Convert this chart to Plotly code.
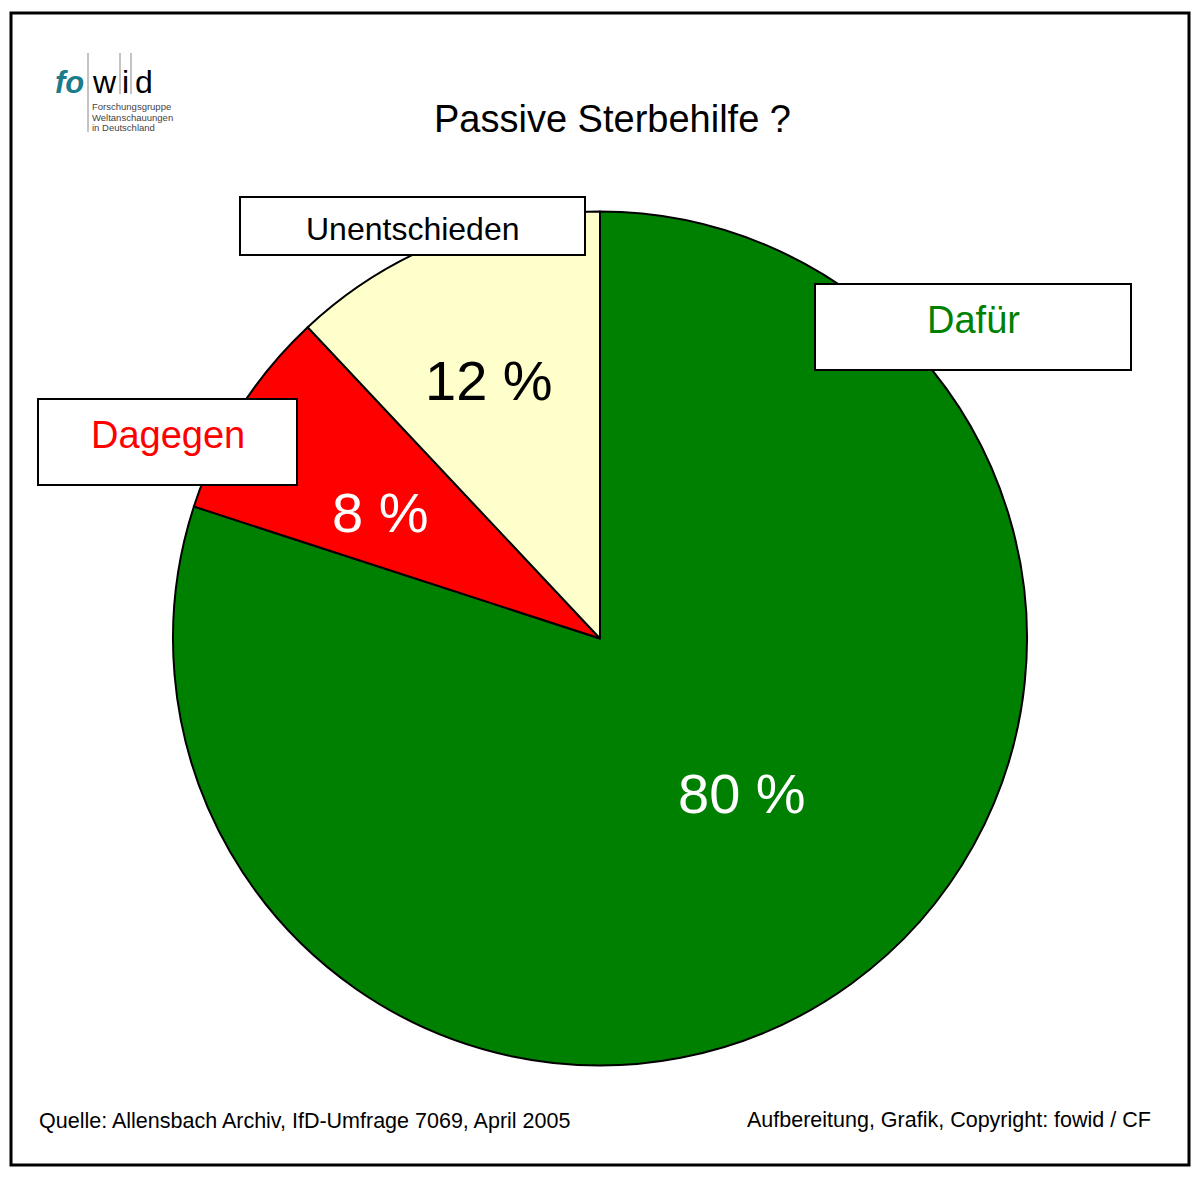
import plotly.graph_objects as go

W, H = 1200, 1181

labels = ['Dafür', 'Dagegen', 'Unentschieden']
values = [80, 8, 12]
slice_colors = ['#008000', '#ff0000', '#ffffcc']
label_colors = ['#008000', '#ff0000', '#000000']
pct_colors = ['white', 'white', 'black']

title = 'Passive Sterbehilfe ?'
source = 'Quelle: Allensbach Archiv, IfD-Umfrage 7069, April 2005'
credit = 'Aufbereitung, Grafik, Copyright: fowid / CF'
logo_sub = ['Forschungsgruppe', 'Weltanschauungen', 'in Deutschland']

font = 'Liberation Sans, Arial, sans-serif'


def px(x):
    return x / W


def py(y):
    return 1 - y / H


def note(x, y, text, size, color='black', xanchor='center', family=font):
    return dict(x=px(x), y=py(y), xref='paper', yref='paper', text=text,
                xanchor=xanchor, yanchor='middle', showarrow=False,
                font=dict(family=family, size=size, color=color))


# pie geometry in pixels
cx, cy, r = 600, 638.5, 427

fig = go.Figure(go.Pie(
    labels=labels,
    values=values,
    sort=False,
    direction='clockwise',
    rotation=0,
    marker=dict(colors=slice_colors, line=dict(color='black', width=2)),
    textinfo='none',
    hovertemplate='%{label}: %{value} %<extra></extra>',
    showlegend=False,
    domain=dict(x=[px(cx - r), px(cx + r)], y=[py(cy + r), py(cy - r)]),
))

shapes = []
annotations = []

# outer frame
shapes.append(dict(type='rect', xref='paper', yref='paper',
                   x0=px(11), x1=px(1189), y0=py(1165), y1=py(13),
                   line=dict(color='black', width=3)))

# label boxes: (x0, y0, x1, y1, text y, font size)
boxes = [(815, 284, 1131, 370, 320, 38), (38, 399, 297, 485, 435, 38), (240, 197, 585, 255, 229, 32)]
for lab, col, (x0, y0, x1, y1, ty, fs) in zip(labels, label_colors, boxes):
    shapes.append(dict(type='rect', xref='paper', yref='paper', layer='above',
                       x0=px(x0), x1=px(x1), y0=py(y1), y1=py(y0),
                       fillcolor='white', line=dict(color='black', width=2)))
    annotations.append(note((x0 + x1) / 2, ty, lab, fs, col))

# percentage labels inside the slices
pct_pos = [(742, 793), (380, 512), (489, 380)]
for v, col, (x, y) in zip(values, pct_colors, pct_pos):
    annotations.append(note(x, y, f'{v} %', 56, col))

# title
annotations.append(note(612, 119, title, 38))

# footer
annotations.append(note(37, 1121, source, 21.5, xanchor='left'))
annotations.append(note(1153, 1120, credit, 21.5, xanchor='right'))

# fowid logo
annotations.append(note(86, 82, '<b><i>fo</i></b>', 31, '#1b7c8a', xanchor='right'))
for ch, x in [('w', 104), ('i', 125.5), ('d', 144)]:
    annotations.append(note(x, 82, ch, 32))
for i, line in enumerate(logo_sub):
    annotations.append(note(90, 107 + i * 10.5, line, 9.5, '#444444', xanchor='left'))
for x, y1 in [(88, 132), (120, 94), (131, 94)]:
    shapes.append(dict(type='line', xref='paper', yref='paper',
                       x0=px(x), x1=px(x), y0=py(y1), y1=py(53),
                       line=dict(color='#888888', width=1)))

fig.update_layout(
    width=W, height=H,
    margin=dict(l=0, r=0, t=0, b=0),
    paper_bgcolor='white',
    plot_bgcolor='white',
    shapes=shapes,
    annotations=annotations,
)

fig.write_html('out.html', config={'displayModeBar': False},
               post_script="document.body.style.margin='0';")
